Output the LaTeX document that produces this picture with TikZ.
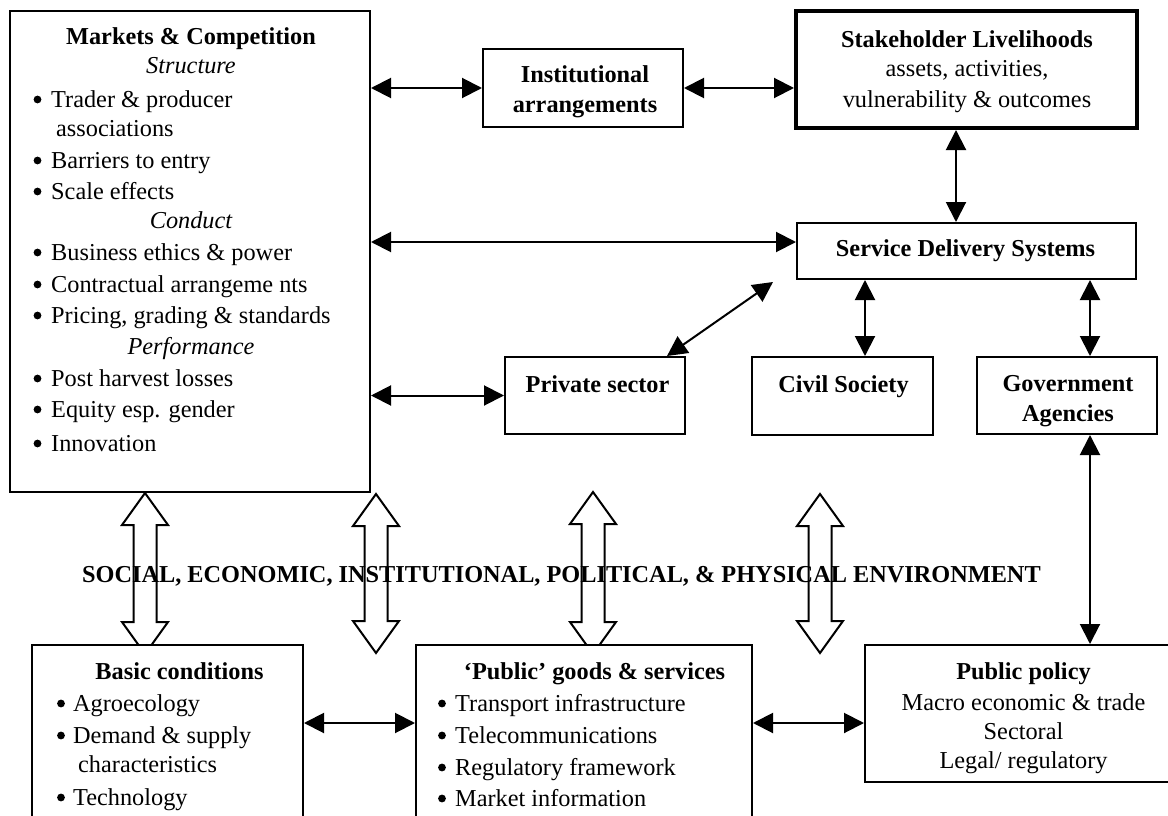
\documentclass[tikz,border=0pt]{standalone}
\usepackage{fontspec}
\setmainfont{Liberation Serif}
\usetikzlibrary{arrows.meta}
\newcommand\bitem[4]{%
  \fill (#1,{#3-7.5}) circle (3.9pt);
  \node[txt,anchor=base west] at (#2,#3) {#4};}
\newcommand\hollowarrow[3]{%
  \draw[hol] (#1,#2) -- ({#1+23},{#2+32}) -- ({#1+11.5},{#2+32}) -- ({#1+11.5},{#3-32})
    -- ({#1+23},{#3-32}) -- (#1,#3) -- ({#1-23},{#3-32}) -- ({#1-11.5},{#3-32})
    -- ({#1-11.5},{#2+32}) -- ({#1-23},{#2+32}) -- cycle;}
\begin{document}
\begin{tikzpicture}[x=1pt,y=-1pt,
  font=\fontsize{24.3}{31}\selectfont,
  boxn/.style={draw, line width=2pt, fill=white, inner sep=0pt, anchor=center},
  txt/.style={inner sep=0pt, anchor=base},
  dar/.style={line width=2pt, {Triangle[length=20pt,width=20pt]}-{Triangle[length=20pt,width=20pt]}},
  hol/.style={line width=2pt, line join=miter}]
\useasboundingbox (0,0) rectangle (1168,816);
\clip (0,0) rectangle (1168,816);

% hollow double arrows (environment links)
\hollowarrow{145}{493}{654}
\hollowarrow{376}{494}{653}
\hollowarrow{593}{492}{654}
\hollowarrow{820}{494}{653}

% boxes
\node[boxn, minimum width=360pt, minimum height=481pt] (mk) at (190,251.5) {};
\node[boxn, minimum width=200pt, minimum height=78pt] (ia) at (583,88) {};
\node[boxn, line width=4pt, minimum width=341pt, minimum height=117pt] (sl) at (966.5,69.5) {};
\node[boxn, minimum width=339pt, minimum height=56pt] (sd) at (966.5,251) {};
\node[boxn, minimum width=180pt, minimum height=77pt] (ps) at (595,395.5) {};
\node[boxn, minimum width=181pt, minimum height=78pt] (cs) at (842.5,396) {};
\node[boxn, minimum width=180pt, minimum height=77pt] (gv) at (1067,395.5) {};
\node[boxn, minimum width=271pt, minimum height=185pt] (bc) at (167.5,737.5) {};
\node[boxn, minimum width=336pt, minimum height=185pt] (pg) at (584,737.5) {};
\node[boxn, minimum width=316pt, minimum height=137pt] (pp) at (1023,713.5) {};

% Markets & Competition text
\node[txt] (mkt) at (191,45) {\bfseries Markets \& Competition};
\node[txt] (mks) at (191,74) {\itshape Structure};
\bitem{37.5}{51}{107}{Trader \& producer}
\node[txt,anchor=base west] (mka) at (56,136) {associations};
\bitem{37.5}{51}{168}{Barriers to entry}
\bitem{37.5}{51}{199}{Scale effects}
\node[txt] (mkc) at (191,228) {\itshape Conduct};
\bitem{37.5}{51}{260}{Business ethics \& power}
\bitem{37.5}{51}{292}{Contractual arrangeme nts}
\bitem{37.5}{51}{323}{Pricing, grading \& standards}
\node[txt] (mkp) at (191,354) {\itshape Performance};
\bitem{37.5}{51}{386}{Post harvest losses}
\bitem{37.5}{51}{417}{Equity esp. gender}
\bitem{37.5}{51}{451}{Innovation}

% other box texts
\node[txt] (iat1) at (585,82) {\bfseries Institutional};
\node[txt] (iat2) at (585,112) {\bfseries arrangements};
\node[txt] (slt1) at (967,48) {\bfseries Stakeholder Livelihoods};
\node[txt] (slt2) at (967,77) {assets, activities,};
\node[txt] (slt3) at (967,107) {vulnerability \& outcomes};
\node[txt] (sdt) at (965.5,256) {\bfseries Service Delivery Systems};
\node[txt] (pst) at (597.5,392) {\bfseries Private sector};
\node[txt] (cst) at (843.5,392) {\bfseries Civil Society};
\node[txt] (gvt1) at (1068,391) {\bfseries Government};
\node[txt] (gvt2) at (1068,421) {\bfseries Agencies};

\node[txt] (bct) at (179.5,679) {\bfseries Basic conditions};
\bitem{61}{73}{711}{Agroecology}
\bitem{61}{73}{743}{Demand \& supply}
\node[txt,anchor=base west] (bcc) at (78,772) {characteristics};
\bitem{61}{73}{805}{Technology}

\node[txt] (pgt) at (594.5,679) {\bfseries ‘Public’ goods \& services};
\bitem{442}{455}{711}{Transport infrastructure}
\bitem{442}{455}{743}{Telecommunications}
\bitem{442}{455}{775}{Regulatory framework}
\bitem{442}{455}{806}{Market information}

\node[txt] (ppt1) at (1023.5,679) {\bfseries Public policy};
\node[txt] (ppt2) at (1023.5,710) {Macro economic \& trade};
\node[txt] (ppt3) at (1023.5,739) {Sectoral};
\node[txt] (ppt4) at (1023.5,768) {Legal/ regulatory};

% environment label
\node[txt] (env) at (561.5,582) {\bfseries SOCIAL, ECONOMIC, INSTITUTIONAL, POLITICAL, \& PHYSICAL ENVIRONMENT};

% connectors
\coordinate (sdin) at ([yshift=9pt]sd.west);
\coordinate (psout) at ([xshift=-19pt]ps.north east);
\coordinate (sdout) at ([xshift=-23pt,yshift=-2pt]sd.south west);
\coordinate (slout) at ([xshift=-10.5pt]sl.south);
\coordinate (csin) at ([xshift=22.5pt]cs.north);
\coordinate (gvin) at ([xshift=23pt]gv.north);
\coordinate (gvout) at ([xshift=23pt]gv.south);
\coordinate (bot) at ([yshift=14.5pt]bc.east);

\draw[dar] (ia.west -| mk.east) -- (ia.west);
\draw[dar] (ia.east) -- (ia.east -| sl.west);
\draw[dar] (sdin -| mk.east) -- (sdin);
\draw[dar] (ps.west -| mk.east) -- (ps.west);
\draw[dar] (psout) -- (sdout);
\draw[dar] (slout) -- (slout |- sd.north);
\draw[dar] (csin |- sd.south) -- (csin);
\draw[dar] (gvin |- sd.south) -- (gvin);
\draw[dar] (gvout) -- (gvout |- pp.north);
\draw[dar] (bot -| bc.east) -- (bot -| pg.west);
\draw[dar] (bot -| pg.east) -- (bot -| pp.west);
\end{tikzpicture}
\end{document}
